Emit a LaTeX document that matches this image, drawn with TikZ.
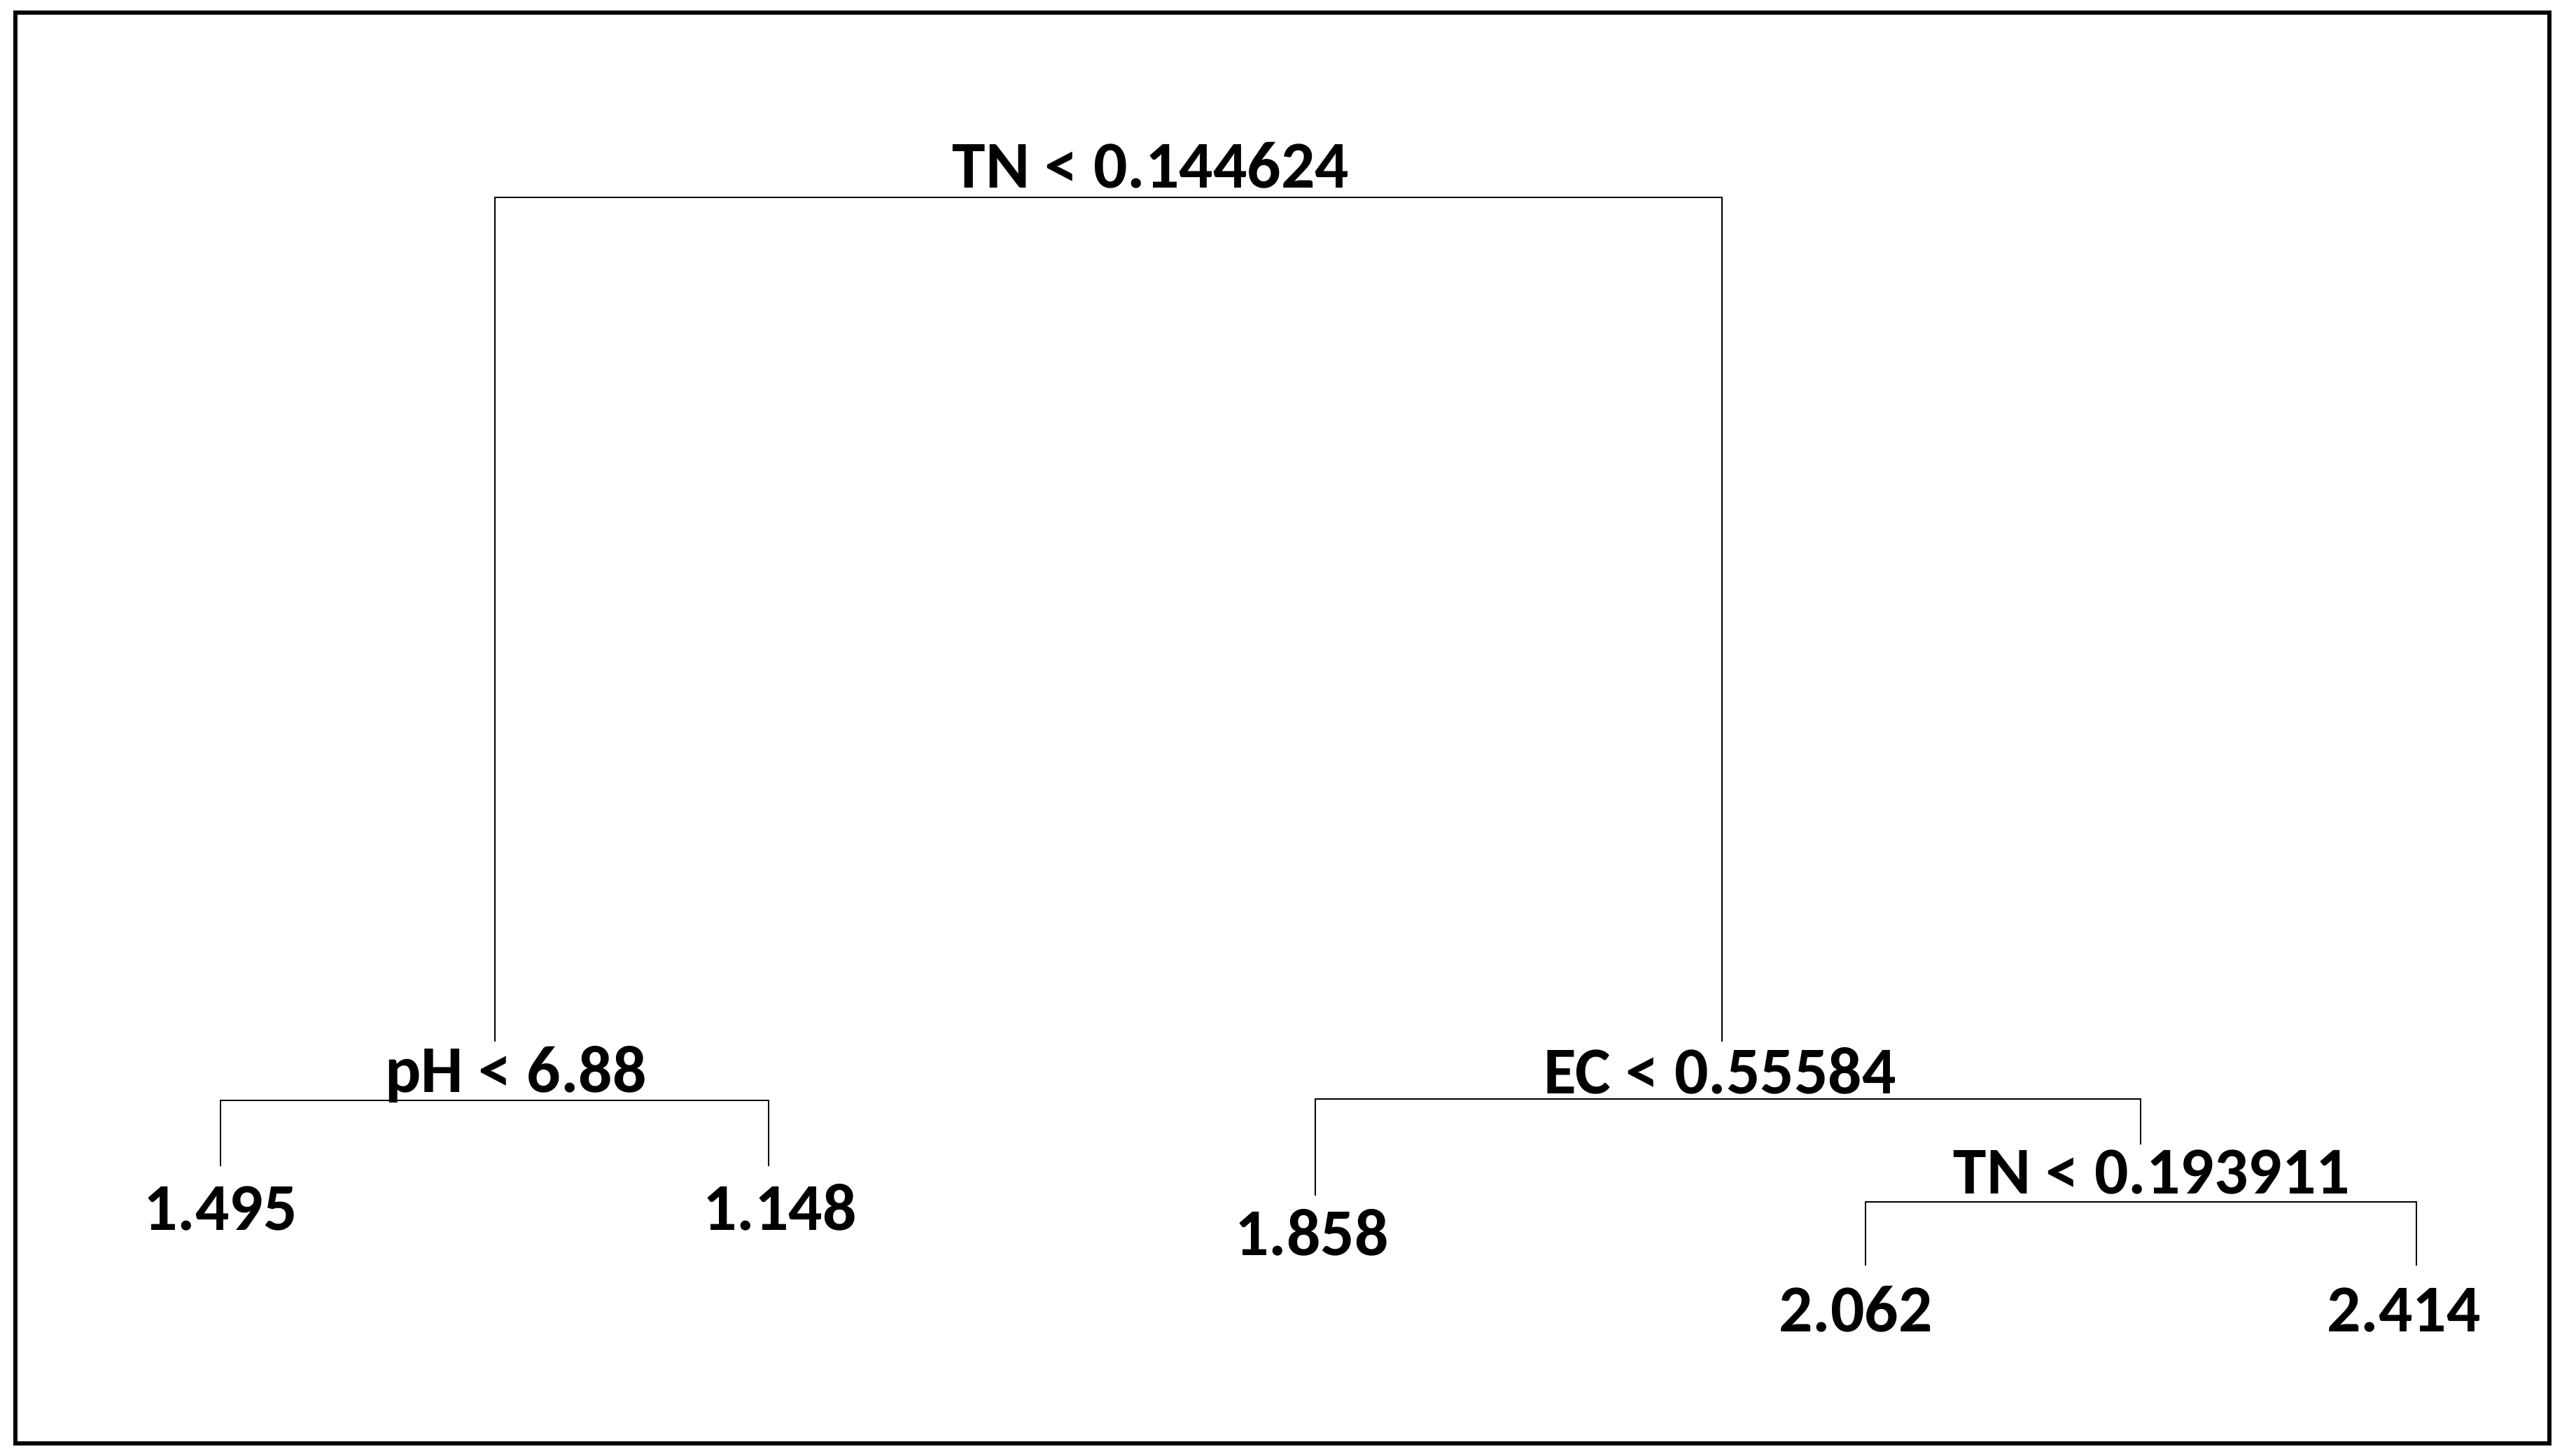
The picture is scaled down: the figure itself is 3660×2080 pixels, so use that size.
\documentclass[tikz,border=0pt]{standalone}
\usepackage{fontspec}
\setmainfont{Carlito}
\begin{document}
\begin{tikzpicture}[x=0.01cm,y=-0.01cm,
  treeline/.style={draw=black,line width=0.75pt},
  lbl/.style={anchor=base,inner sep=0pt,font=\fontsize{27.2}{31}\selectfont\bfseries}]
\useasboundingbox (0,0) rectangle (3660,2080);
\draw[line width=1.8pt] (22,18) rectangle (3642,2062);
% coordinates
\coordinate (r1l) at (707,282);
\coordinate (r1r) at (2460,282);
\coordinate (r1lb) at (707,1488);
\coordinate (r1rb) at (2460,1488);
\coordinate (phl) at (315,1572);
\coordinate (phr) at (1098,1572);
\coordinate (phlb) at (315,1666);
\coordinate (phrb) at (1098,1666);
\coordinate (ecl) at (1879,1570);
\coordinate (ecr) at (3058,1570);
\coordinate (eclb) at (1879,1708);
\coordinate (ecrb) at (3058,1635);
\coordinate (tnl) at (2665,1717);
\coordinate (tnr) at (3452,1717);
\coordinate (tnlb) at (2665,1808);
\coordinate (tnrb) at (3452,1808);
% lines
\draw[treeline] (r1lb) -- (r1l) -- (r1r) -- (r1rb);
\draw[treeline] (phlb) -- (phl) -- (phr) -- (phrb);
\draw[treeline] (eclb) -- (ecl) -- (ecr) -- (ecrb);
\draw[treeline] (tnlb) -- (tnl) -- (tnr) -- (tnrb);
% labels
\node[lbl] (s1) at (1644,269) {TN < 0.144624};
\node[lbl] (s2) at (737,1560) {pH < 6.88};
\node[lbl] (s3) at (2457,1562) {EC < 0.55584};
\node[lbl] (s4) at (3074,1705) {TN < 0.193911};
\node[lbl] (l1) at (315,1757) {1.495};
\node[lbl] (l2) at (1114,1757) {1.148};
\node[lbl] (l3) at (1874,1793) {1.858};
\node[lbl] (l4) at (2651,1902) {2.062};
\node[lbl] (l5) at (3434,1902) {2.414};
\end{tikzpicture}
\end{document}
